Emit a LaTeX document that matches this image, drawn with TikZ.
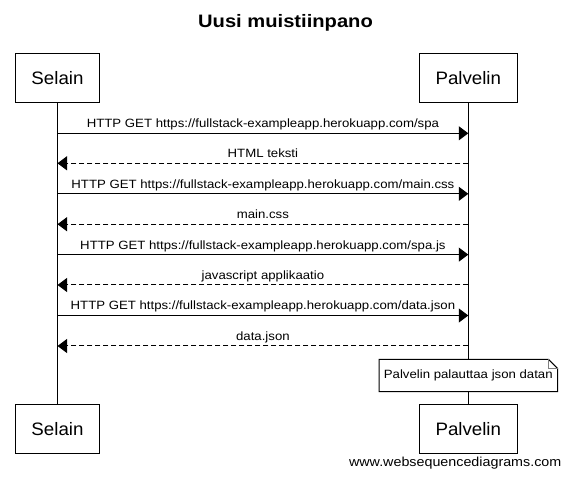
\documentclass[tikz,border=0pt]{standalone}
\usepackage{fontspec}
\setmainfont{Liberation Sans}
\newfontfamily\wsdtext[FakeStretch=1.1]{Liberation Sans}
\newfontfamily\wsdhead[FakeStretch=1.12]{Liberation Sans}
\newfontfamily\wsdactor[FakeStretch=1.04]{Liberation Sans}
\usepackage{tikz}
\usetikzlibrary{positioning,arrows.meta,calc}

\begin{document}
\begin{tikzpicture}[
x=1pt,
y=-1pt,
actor/.style={
  draw,
  line width=1pt,
  minimum height=49pt,
  inner xsep=16pt,
  font=\wsdactor\fontsize{18}{22}\selectfont
  },
life/.style={
  line width=1pt
  },
msg/.style={
  ->,
  line width=1pt
  },
reply/.style={
  msg,
  dash pattern=on 5pt off 3pt
  },
lbl/.style={
  above=2pt,
  inner sep=0pt,
  text depth=3pt,
  font=\wsdtext\fontsize{12}{14}\selectfont
  },
notebox/.style={
  minimum width=178pt,
  minimum height=32pt,
  inner sep=0pt,
  font=\wsdtext\fontsize{12}{14}\selectfont
  },
>={Triangle[length=9.5pt,width=14pt]}
]
\useasboundingbox (0,0) rectangle (566,478);

\node[font=\wsdhead\bfseries\fontsize{18}{22}\selectfont, anchor=base]
  (title) at (285.5,28) {Uusi muistiinpano};

\node[actor] (selain) at (57.5,78.5) {Selain};
\node[actor] (palvelin) at (468.3,78.5) {Palvelin};
\node[actor] (selain2) at (57.5,429.5) {Selain};
\node[actor] (palvelin2) at (468.3,429.5) {Palvelin};
\node[notebox] (note) at (468.3,375.5) {Palvelin palauttaa json datan};

\draw[life] (selain) -- (selain2);
\draw[life] (palvelin) -- (note);
\draw[life] (note) -- (palvelin2);

\foreach \i/\y in {1/133.3,2/163.3,3/193.8,4/224.2,5/254.6,6/285,7/315.5,8/346}
{
  \coordinate (s\i) at (57.5,\y);
  \coordinate (p\i) at (468.3,\y);
}

\draw[msg] (s1) -- node[lbl] {HTTP GET https://fullstack-exampleapp.herokuapp.com/spa} (p1);
\draw[reply] (p2) -- node[lbl] {HTML teksti} (s2);
\draw[msg] (s3) -- node[lbl] {HTTP GET https://fullstack-exampleapp.herokuapp.com/main.css} (p3);
\draw[reply] (p4) -- node[lbl] {main.css} (s4);
\draw[msg] (s5) -- node[lbl] {HTTP GET https://fullstack-exampleapp.herokuapp.com/spa.js} (p5);
\draw[reply] (p6) -- node[lbl] {javascript applikaatio} (s6);
\draw[msg] (s7) -- node[lbl] {HTTP GET https://fullstack-exampleapp.herokuapp.com/data.json} (p7);
\draw[reply] (p8) -- node[lbl] {data.json} (s8);

% note with folded corner
\draw[line width=1pt] (note.north west) -- ([xshift=-9pt]note.north east)
  -- ([yshift=-9pt]note.north east) -- (note.south east) -- (note.south west) -- cycle;
\draw[gray, line width=0.8pt] ([xshift=-9pt]note.north east)
  -- ([xshift=-9pt,yshift=-9pt]note.north east) -- ([yshift=-9pt]note.north east);

\node[font=\wsdtext\fontsize{13}{15}\selectfont, anchor=base east, inner sep=0pt]
  (wsd) at (561.5,467) {www.websequencediagrams.com};
\end{tikzpicture}
\end{document}
